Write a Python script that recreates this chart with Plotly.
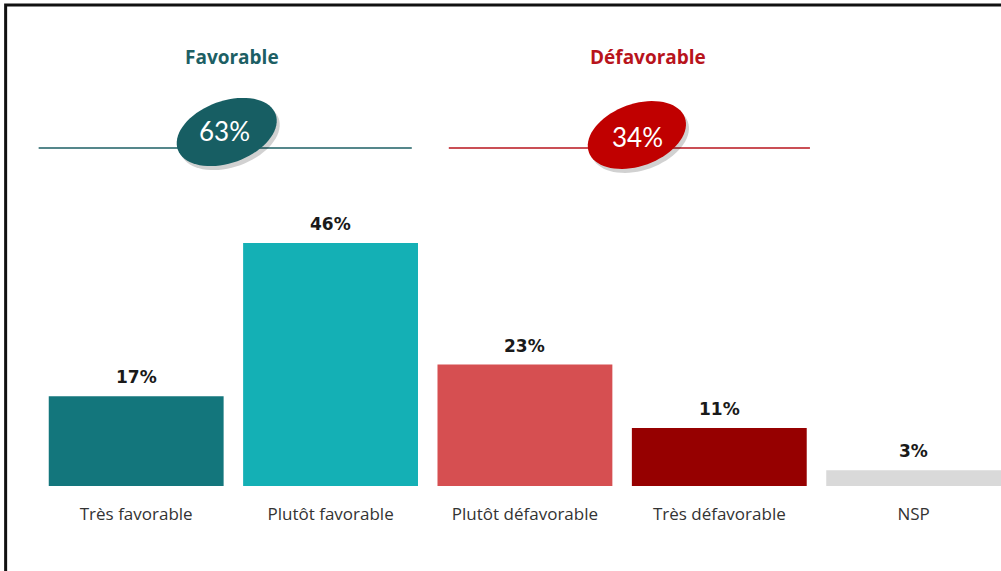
import numpy as np
import plotly.graph_objects as go

categories = ["Très favorable", "Plutôt favorable", "Plutôt défavorable", "Très défavorable", "NSP"]
values = [17, 46, 23, 11, 3]
value_labels = ["17%", "46%", "23%", "11%", "3%"]
bar_colors = ["#13767c", "#14b0b5", "#d64f51", "#960000", "#d9d9d9"]

group_titles = ["Favorable", "Défavorable"]
group_totals = ["63%", "34%"]
group_colors = ["#1d5f64", "#b8141c"]
ellipse_colors = ["#175e63", "#c00000"]

W, H = 1001, 571
SLOT = 194.3
ML, MR, MT, MB = 39.35, 0, 221, 85
PW = W - ML - MR
PH = H - MT - MB


def px(x):
    return (x - ML) / PW


def py(y):
    return (H - MB - y) / PH


def ellipse_path(cx, cy, a, b, theta_deg, n=72):
    t = np.linspace(0, 2 * np.pi, n, endpoint=False)
    th = np.deg2rad(theta_deg)
    xs = cx + a * np.cos(t) * np.cos(th) - b * np.sin(t) * np.sin(th)
    ys = cy - (a * np.cos(t) * np.sin(th) + b * np.sin(t) * np.cos(th))
    pts = [f"{px(x):.5f},{py(y):.5f}" for x, y in zip(xs, ys)]
    return "M" + " L".join(pts) + " Z"


fig = go.Figure()
fig.add_trace(go.Bar(
    x=categories, y=values,
    marker=dict(color=bar_colors, line=dict(width=0)),
    hoverinfo="skip",
))

annotations = []
for c, v, lab in zip(categories, values, value_labels):
    annotations.append(dict(
        x=c, y=v, xref="x", yref="y", text=f"<b>{lab}</b>", showarrow=False,
        yanchor="bottom", yshift=7,
        font=dict(family="DejaVu Sans", size=17, color="#1a1a1a"),
    ))

shapes = []
# frame
shapes.append(dict(type="rect", xref="paper", yref="paper",
                   x0=px(6), x1=px(1030), y0=py(600), y1=py(5),
                   line=dict(color="#111111", width=3), fillcolor="rgba(0,0,0,0)", layer="below"))

group_cfg = [
    dict(title_x=232, line_x=(39, 412), ell=(227, 132, 52, 31, 20), txt=(225, 131)),
    dict(title_x=648, line_x=(449, 810), ell=(637, 135, 51, 31, 20), txt=(638, 137)),
]
for g, cfg in enumerate(group_cfg):
    shapes.append(dict(type="line", xref="paper", yref="paper",
                       x0=px(cfg["line_x"][0]), x1=px(cfg["line_x"][1]), y0=py(148), y1=py(148),
                       line=dict(color=group_colors[g], width=1.5)))
    cx, cy, a, b, th = cfg["ell"]
    shapes.append(dict(type="path", xref="paper", yref="paper",
                       path=ellipse_path(cx + 3, cy + 4, a, b, th),
                       fillcolor="rgba(0,0,0,0.18)", line=dict(width=0)))
    shapes.append(dict(type="path", xref="paper", yref="paper",
                       path=ellipse_path(cx, cy, a, b, th),
                       fillcolor=ellipse_colors[g], line=dict(width=0)))
    annotations.append(dict(
        x=px(cfg["title_x"]), y=py(57), xref="paper", yref="paper",
        text=f"<b>{group_titles[g]}</b>", showarrow=False,
        xanchor="center", yanchor="middle",
        font=dict(family="Open Sans", size=19, color=group_colors[g]),
    ))
    annotations.append(dict(
        x=px(cfg["txt"][0]), y=py(cfg["txt"][1]), xref="paper", yref="paper",
        text=group_totals[g], showarrow=False,
        xanchor="center", yanchor="middle",
        font=dict(family="Lato", size=26, color="white"),
    ))

fig.update_layout(
    width=W, height=H,
    margin=dict(l=ML, r=MR, t=MT, b=MB),
    paper_bgcolor="white", plot_bgcolor="white",
    showlegend=False,
    bargap=19.5 / SLOT,
    annotations=annotations,
    shapes=shapes,
    xaxis=dict(
        range=[-0.5, -0.5 + PW / SLOT], showgrid=False, zeroline=False, showline=False,
        ticks="outside", ticklen=13, tickcolor="rgba(0,0,0,0)",
        tickfont=dict(family="Open Sans", size=17, color="#333333"), fixedrange=True,
    ),
    yaxis=dict(range=[0, 265 / 5.28], visible=False, fixedrange=True),
)

fig.write_html("out.html", config={"displayModeBar": False},
               post_script="document.body.style.margin='0';document.body.style.overflow='hidden';")
